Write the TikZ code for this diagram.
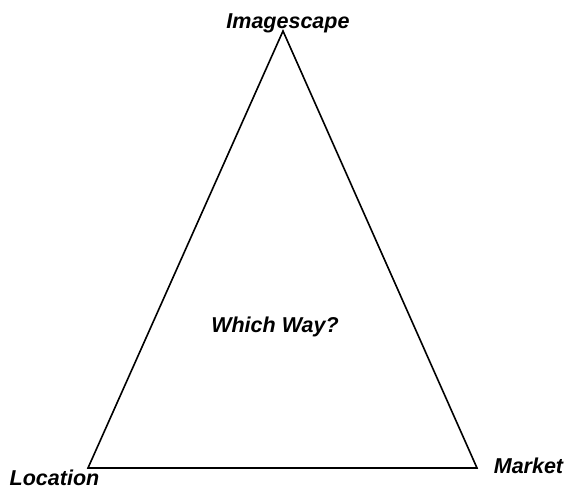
\documentclass[tikz,border=0pt]{standalone}
\usepackage{fontspec}
\setmainfont{Liberation Sans}
\usetikzlibrary{positioning}
\definecolor{cInk}{HTML}{000000}
\tikzset{
  corner/.style={font=\fontsize{21.5}{24}\selectfont\bfseries\itshape,
    text=cInk, anchor=base, inner sep=0pt},
}

\begin{document}
\begin{tikzpicture}[
  x=1pt, y=1pt,
  edge/.style={draw=cInk, line width=1.6pt, line join=miter},
]
\useasboundingbox (0,0) rectangle (569,489);
% ---------------------------------------------------------------- corners
\coordinate (loc) at (88,21);
\coordinate (img) at (283,458);
\coordinate (mkt) at (477,21);
% ---------------------------------------------------------------- triangle
\draw[edge] (loc) -- (img) -- (mkt) -- cycle;
% ---------------------------------------------------------------- labels
\node[corner] (imgl) at (288,460) {Imagescape};
\node[corner] (locl) at (54.5,3.5) {Location};
\node[corner] (mktl) at (528.5,16) {Market};
\node[corner] (way) at (275,156) {Which Way?};
\end{tikzpicture}
\end{document}
